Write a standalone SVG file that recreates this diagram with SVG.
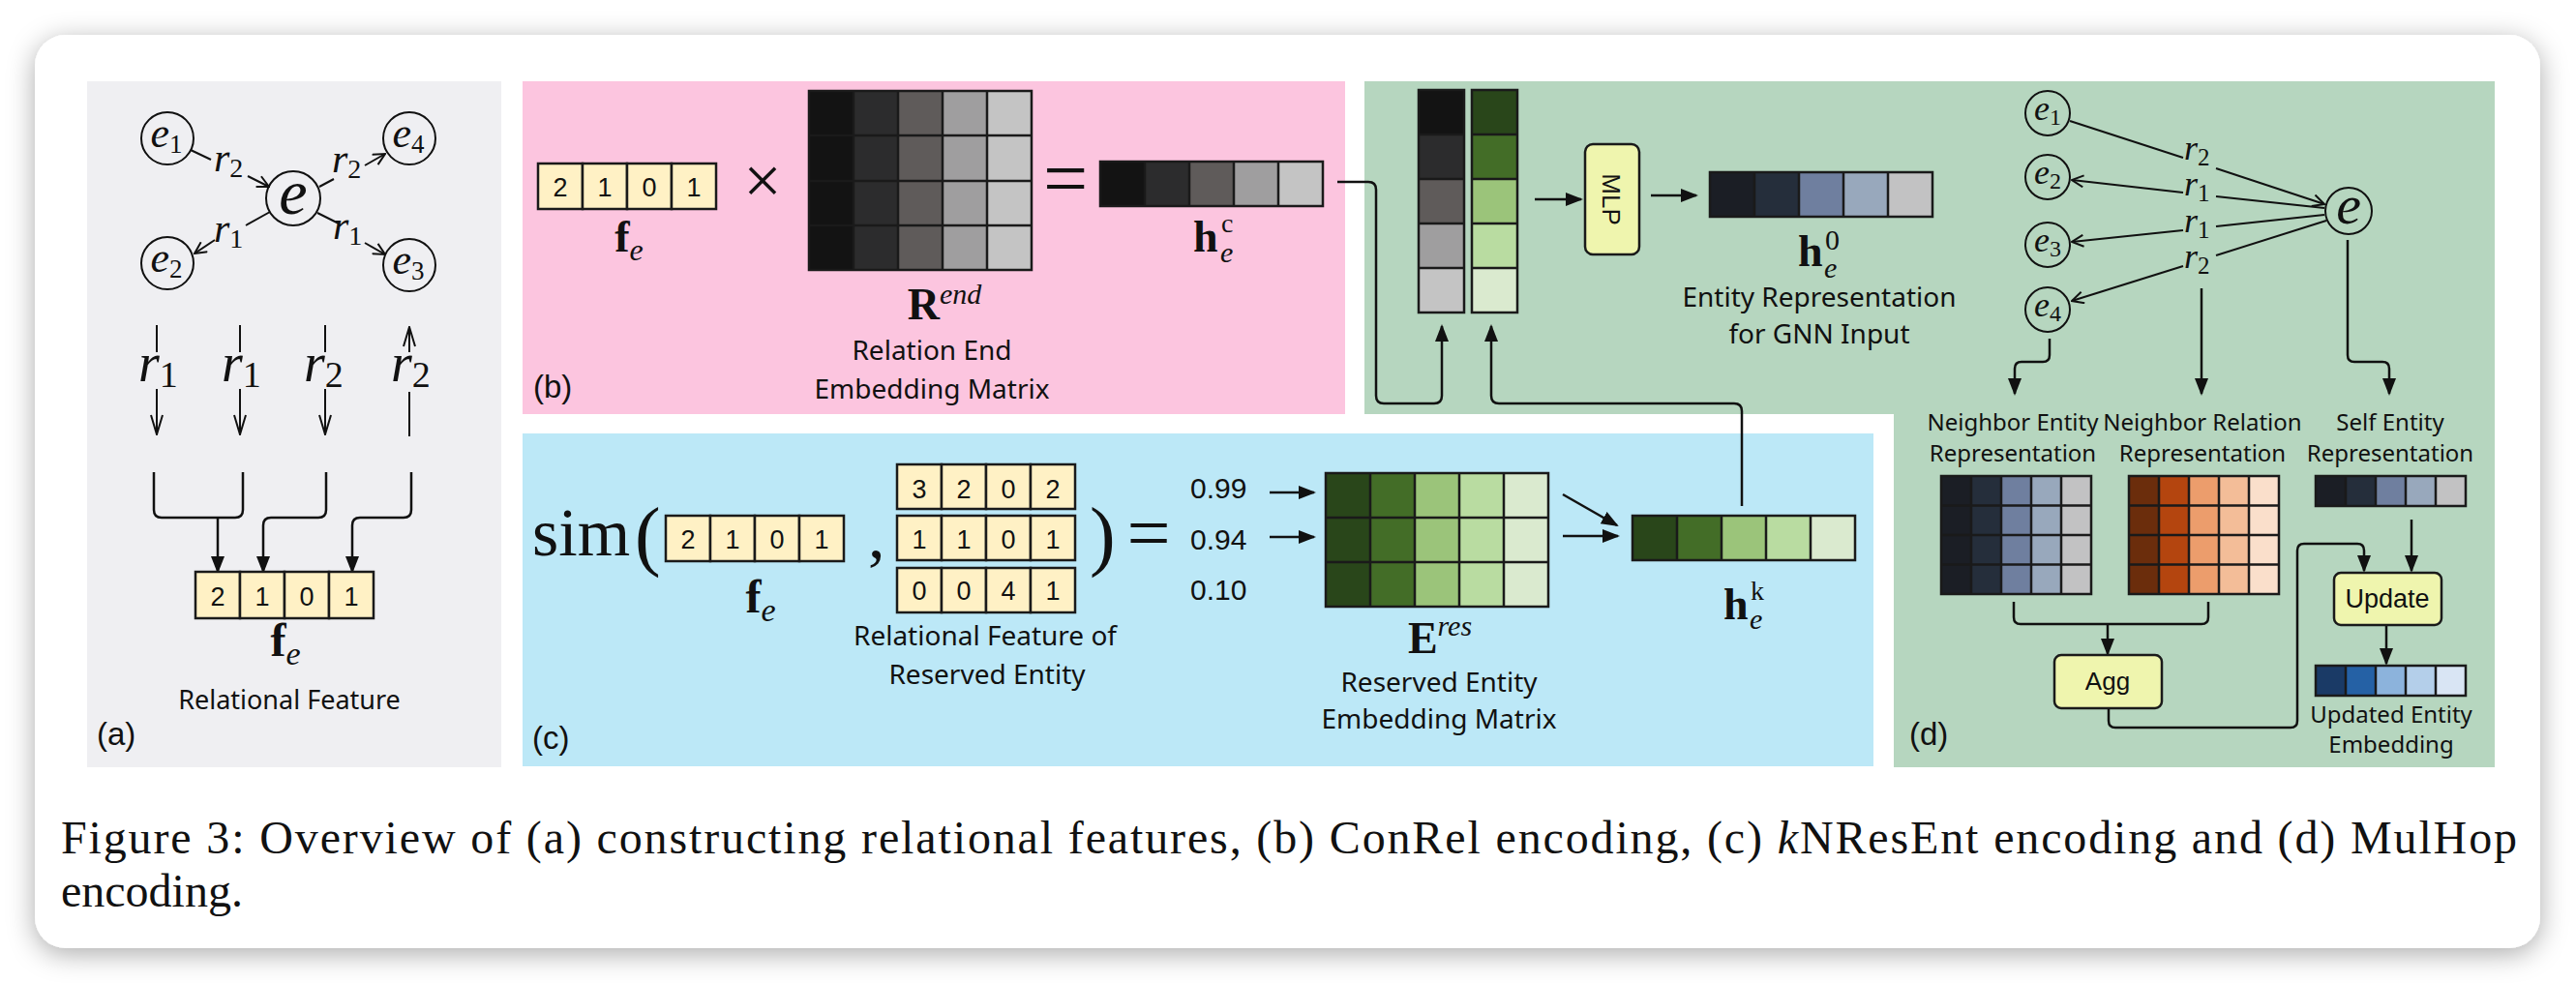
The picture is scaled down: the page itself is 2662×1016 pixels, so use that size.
<svg xmlns="http://www.w3.org/2000/svg" width="2662" height="1016" viewBox="0 0 2662 1016">
<defs>
<filter id="sh" x="-5%" y="-10%" width="110%" height="125%"><feDropShadow dx="0" dy="6" stdDeviation="14" flood-color="#000" flood-opacity="0.33"/></filter>
<marker id="af" viewBox="0 0 18 14" refX="16" refY="7" markerWidth="18" markerHeight="14" markerUnits="userSpaceOnUse" orient="auto"><path d="M0,0 L18,7 L0,14 z" fill="#111"/></marker>
<marker id="ao" viewBox="0 0 14 14" refX="13" refY="7" markerWidth="14" markerHeight="14" markerUnits="userSpaceOnUse" orient="auto"><path d="M1,1 L13,7 L1,13" fill="none" stroke="#111" stroke-width="2"/></marker>
<marker id="aol" viewBox="0 0 22 14" refX="21" refY="7" markerWidth="22" markerHeight="14" markerUnits="userSpaceOnUse" orient="auto"><path d="M1,1 L21,7 L1,13" fill="none" stroke="#111" stroke-width="2"/></marker>
</defs>
<style>
.sans{font-family:"Liberation Sans",Arial,sans-serif;fill:#111}
.hand{font-family:"Noto Sans",sans-serif;fill:#111;text-anchor:middle}
.m{font-family:"Liberation Serif","DejaVu Serif",serif;fill:#111}
.grid{fill:none;stroke:#1a1a1a;stroke-width:2.5}
.ybox{fill:#fff1c5;stroke:#1a1a1a;stroke-width:2.5}
.conn{fill:none;stroke:#111;stroke-width:2.5}
.edge{fill:none;stroke:#111;stroke-width:2}
.node{fill:none;stroke:#111;stroke-width:2}
.op{fill:#eff5ae;stroke:#1a1a1a;stroke-width:2.5}
.dig{font-family:"Liberation Sans",Arial,sans-serif;font-size:27px;text-anchor:middle;fill:#111}
.g1{fill:#131313}.g2{fill:#2c2c2d}.g3{fill:#5f5b5a}.g4{fill:#9f9e9f}.g5{fill:#c4c4c4}
.n1{fill:#29461a}.n2{fill:#436d27}.n3{fill:#9bc47a}.n4{fill:#b9dca1}.n5{fill:#daeacf}
.s1{fill:#1b1e25}.s2{fill:#252e3b}.s3{fill:#6f7f9f}.s4{fill:#98a8bc}.s5{fill:#c2c2c3}
.o1{fill:#6b2d0c}.o2{fill:#b4450f}.o3{fill:#ec9d6c}.o4{fill:#f3bd98}.o5{fill:#fadfcb}
.b1{fill:#1a3a66}.b2{fill:#2561a5}.b3{fill:#8cb3dc}.b4{fill:#b4cfea}.b5{fill:#d9e5f4}
</style>
<rect width="2662" height="1016" fill="#ffffff"/>
<rect x="36" y="36" width="2589" height="944" rx="32" fill="#ffffff" filter="url(#sh)"/>

<g id="panels">
<rect x="90" y="84" width="428" height="709" fill="#efeff2"/>
<rect x="540" y="84" width="850" height="344" fill="#fcc5df"/>
<rect x="540" y="448" width="1396" height="344" fill="#bce8f7"/>
<path d="M1410,84 H2578 V793 H1957 V428 H1410 Z" fill="#b6d6bf"/>
</g>

<g id="connectors">
<path class="edge" d="M197,155 L218,165"/>
<path class="edge" d="M256,182 L278,193" marker-end="url(#ao)"/>
<path class="edge" d="M330,193 L345,185"/>
<path class="edge" d="M377,171 L398,159" marker-end="url(#ao)"/>
<path class="edge" d="M279,219 L254,233"/>
<path class="edge" d="M222,248 L201,262" marker-end="url(#ao)"/>
<path class="edge" d="M328,220 L350,231"/>
<path class="edge" d="M377,251 L398,263" marker-end="url(#ao)"/>
<path class="edge" d="M162,336 V364"/><path class="edge" d="M162,402 V449" marker-end="url(#aol)"/>
<path class="edge" d="M248,336 V364"/><path class="edge" d="M248,402 V449" marker-end="url(#aol)"/>
<path class="edge" d="M336,336 V364"/><path class="edge" d="M336,402 V449" marker-end="url(#aol)"/>
<path class="edge" d="M423,364 V338" marker-end="url(#aol)"/><path class="edge" d="M423,405 V451"/>
<path class="conn" d="M159,488 V527 Q159,535 167,535 H243 Q251,535 251,527 V488"/>
<path class="conn" d="M225,535 V591" marker-end="url(#af)"/>
<path class="conn" d="M337,488 V527 Q337,535 329,535 H280 Q272,535 272,543 V591" marker-end="url(#af)"/>
<path class="conn" d="M425,488 V527 Q425,535 417,535 H372 Q364,535 364,543 V591" marker-end="url(#af)"/>
<path class="conn" d="M1382,188 H1414 Q1422,188 1422,196 V409 Q1422,417 1430,417 H1482 Q1490,417 1490,409 V337" marker-end="url(#af)"/>
<path class="conn" d="M1800,523 V425 Q1800,417 1792,417 H1549 Q1541,417 1541,409 V337" marker-end="url(#af)"/>
<path class="conn" d="M1586,206 H1634" marker-end="url(#af)"/>
<path class="conn" d="M1706,202 H1753" marker-end="url(#af)"/>
<path class="conn" d="M1312,509 H1358" marker-end="url(#af)"/>
<path class="conn" d="M1312,555 H1358" marker-end="url(#af)"/>
<path class="conn" d="M1615,511 L1671,543" marker-end="url(#af)"/>
<path class="conn" d="M1615,554 H1672" marker-end="url(#af)"/>
<path class="edge" d="M2139,125 L2256,163"/><path class="edge" d="M2290,174 L2402,211" marker-end="url(#ao)"/>
<path class="edge" d="M2402,215 L2290,203"/><path class="edge" d="M2256,199 L2141,186" marker-end="url(#ao)"/>
<path class="edge" d="M2402,222 L2290,234"/><path class="edge" d="M2256,238 L2141,250" marker-end="url(#ao)"/>
<path class="edge" d="M2404,228 L2290,264"/><path class="edge" d="M2256,275 L2141,311" marker-end="url(#ao)"/>
<path class="conn" d="M2118,350 V367 Q2118,374 2111,374 H2089 Q2082,374 2082,381 V407" marker-end="url(#af)"/>
<path class="conn" d="M2275,298 V407" marker-end="url(#af)"/>
<path class="conn" d="M2426,248 V367 Q2426,374 2433,374 H2462 Q2469,374 2469,381 V407" marker-end="url(#af)"/>
<path class="conn" d="M2081,622 V638 Q2081,645 2088,645 H2275 Q2282,645 2282,638 V622"/>
<path class="conn" d="M2178,645 V676" marker-end="url(#af)"/>
<path class="conn" d="M2492,537 V590" marker-end="url(#af)"/>
<path class="conn" d="M2466,646 V686" marker-end="url(#af)"/>
<path class="conn" d="M2179,732 V745 Q2179,752 2186,752 H2367 Q2374,752 2374,745 V569 Q2374,562 2381,562 H2436 Q2443,562 2443,569 V590" marker-end="url(#af)"/>
</g>

<g id="a-e1"><circle class="node" cx="173" cy="143" r="27"/><text class="m" x="172" y="152" text-anchor="middle"><tspan font-style="italic" font-size="44">e</tspan><tspan font-size="27" dy="6">1</tspan></text></g>
<g id="a-e4"><circle class="node" cx="423" cy="143" r="27"/><text class="m" x="422" y="152" text-anchor="middle"><tspan font-style="italic" font-size="44">e</tspan><tspan font-size="27" dy="6">4</tspan></text></g>
<g id="a-e"><circle class="node" cx="303" cy="205" r="28"/><text class="m" x="303" y="221" text-anchor="middle" font-style="italic" font-size="66">e</text></g>
<g id="a-e2"><circle class="node" cx="173" cy="272" r="27"/><text class="m" x="172" y="281" text-anchor="middle"><tspan font-style="italic" font-size="44">e</tspan><tspan font-size="27" dy="6">2</tspan></text></g>
<g id="a-e3"><circle class="node" cx="423" cy="274" r="27"/><text class="m" x="422" y="283" text-anchor="middle"><tspan font-style="italic" font-size="44">e</tspan><tspan font-size="27" dy="6">3</tspan></text></g>
<g id="a-labels" class="m">
<text x="221" y="177"><tspan font-style="italic" font-size="42">r</tspan><tspan font-size="28" dy="6">2</tspan></text>
<text x="343" y="178"><tspan font-style="italic" font-size="42">r</tspan><tspan font-size="28" dy="6">2</tspan></text>
<text x="221" y="250"><tspan font-style="italic" font-size="42">r</tspan><tspan font-size="28" dy="6">1</tspan></text>
<text x="344" y="247"><tspan font-style="italic" font-size="42">r</tspan><tspan font-size="28" dy="6">1</tspan></text>
<text x="143" y="394"><tspan font-style="italic" font-size="56">r</tspan><tspan font-size="38" dy="6">1</tspan></text>
<text x="229" y="394"><tspan font-style="italic" font-size="56">r</tspan><tspan font-size="38" dy="6">1</tspan></text>
<text x="314" y="394"><tspan font-style="italic" font-size="56">r</tspan><tspan font-size="38" dy="6">2</tspan></text>
<text x="404" y="394"><tspan font-style="italic" font-size="56">r</tspan><tspan font-size="38" dy="6">2</tspan></text>
</g>
<g id="a-fe">
<rect class="ybox" x="202" y="591" width="46" height="48"/><rect class="ybox" x="248" y="591" width="46" height="48"/><rect class="ybox" x="294" y="591" width="46" height="48"/><rect class="ybox" x="340" y="591" width="46" height="48"/>
<text class="dig" x="225" y="626">2</text><text class="dig" x="271" y="626">1</text><text class="dig" x="317" y="626">0</text><text class="dig" x="363" y="626">1</text>
<text class="m" x="295" y="678" text-anchor="middle"><tspan font-weight="bold" font-size="48">f</tspan><tspan font-style="italic" font-size="34" dy="9">e</tspan></text>
<text class="hand" x="299" y="733" font-size="27">Relational Feature</text>
<text class="sans" x="100" y="770" font-size="33">(a)</text>
</g>

<g id="b-fe">
<rect class="ybox" x="556" y="169" width="46" height="47"/><rect class="ybox" x="602" y="169" width="46" height="47"/><rect class="ybox" x="648" y="169" width="46" height="47"/><rect class="ybox" x="694" y="169" width="46" height="47"/>
<text class="dig" x="579" y="203">2</text><text class="dig" x="625" y="203">1</text><text class="dig" x="671" y="203">0</text><text class="dig" x="717" y="203">1</text>
<text class="m" x="650" y="260" text-anchor="middle"><tspan font-weight="bold" font-size="46">f</tspan><tspan font-style="italic" font-size="32" dy="9">e</tspan></text>
</g>
<text class="m" x="788" y="210" text-anchor="middle" font-size="70">×</text>
<g id="b-Rend">
<rect class="g1" x="836" y="94" width="46" height="185"/><rect class="g2" x="882" y="94" width="46" height="185"/><rect class="g3" x="928" y="94" width="46" height="185"/><rect class="g4" x="974" y="94" width="46" height="185"/><rect class="g5" x="1020" y="94" width="46" height="185"/>
<path class="grid" d="M836,94 H1066 V279 H836 Z M882,94 V279 M928,94 V279 M974,94 V279 M1020,94 V279 M836,140 H1066 M836,187 H1066 M836,233 H1066"/>
<text class="m" x="976" y="330" text-anchor="middle"><tspan font-weight="bold" font-size="46">R</tspan><tspan font-style="italic" font-size="30" dy="-16">end</tspan></text>
<text class="hand" x="963" y="372" font-size="28">Relation End</text>
<text class="hand" x="963" y="412" font-size="28">Embedding Matrix</text>
</g>
<text class="m" x="1101" y="212" text-anchor="middle" font-size="82">=</text>
<g id="b-hc">
<rect class="g1" x="1137" y="167" width="46" height="46"/><rect class="g2" x="1183" y="167" width="46" height="46"/><rect class="g3" x="1229" y="167" width="46" height="46"/><rect class="g4" x="1275" y="167" width="46" height="46"/><rect class="g5" x="1321" y="167" width="46" height="46"/>
<path class="grid" d="M1137,167 H1367 V213 H1137 Z M1183,167 V213 M1229,167 V213 M1275,167 V213 M1321,167 V213"/>
<text class="m" x="1233" y="260" font-weight="bold" font-size="46">h</text>
<text class="m" x="1262" y="240" font-size="28">c</text>
<text class="m" x="1261" y="271" font-style="italic" font-size="30">e</text>
</g>
<text class="sans" x="551" y="411" font-size="33">(b)</text>

<g id="c-sim">
<text class="m" x="550" y="574" font-size="70">sim</text>
<text class="m" x="656" y="580" font-size="80">(</text>
<rect class="ybox" x="688" y="533" width="46" height="47"/><rect class="ybox" x="734" y="533" width="46" height="47"/><rect class="ybox" x="780" y="533" width="46" height="47"/><rect class="ybox" x="826" y="533" width="46" height="47"/>
<text class="dig" x="711" y="567">2</text><text class="dig" x="757" y="567">1</text><text class="dig" x="803" y="567">0</text><text class="dig" x="849" y="567">1</text>
<text class="m" x="786" y="633" text-anchor="middle"><tspan font-weight="bold" font-size="48">f</tspan><tspan font-style="italic" font-size="34" dy="9">e</tspan></text>
<text class="m" x="897" y="576" font-size="70">,</text>
</g>
<g id="c-rel">
<rect class="ybox" x="927" y="480" width="46" height="46"/><rect class="ybox" x="973" y="480" width="46" height="46"/><rect class="ybox" x="1019" y="480" width="46" height="46"/><rect class="ybox" x="1065" y="480" width="46" height="46"/>
<text class="dig" x="950" y="515">3</text><text class="dig" x="996" y="515">2</text><text class="dig" x="1042" y="515">0</text><text class="dig" x="1088" y="515">2</text>
<rect class="ybox" x="927" y="533" width="46" height="46"/><rect class="ybox" x="973" y="533" width="46" height="46"/><rect class="ybox" x="1019" y="533" width="46" height="46"/><rect class="ybox" x="1065" y="533" width="46" height="46"/>
<text class="dig" x="950" y="567">1</text><text class="dig" x="996" y="567">1</text><text class="dig" x="1042" y="567">0</text><text class="dig" x="1088" y="567">1</text>
<rect class="ybox" x="927" y="587" width="46" height="46"/><rect class="ybox" x="973" y="587" width="46" height="46"/><rect class="ybox" x="1019" y="587" width="46" height="46"/><rect class="ybox" x="1065" y="587" width="46" height="46"/>
<text class="dig" x="950" y="620">0</text><text class="dig" x="996" y="620">0</text><text class="dig" x="1042" y="620">4</text><text class="dig" x="1088" y="620">1</text>
<text class="hand" x="1018" y="667" font-size="28">Relational Feature of</text>
<text class="hand" x="1020" y="707" font-size="28">Reserved Entity</text>
</g>
<text class="m" x="1126" y="580" font-size="80">)</text>
<text class="m" x="1187" y="578" text-anchor="middle" font-size="80">=</text>
<g id="c-scores" class="sans" font-size="30">
<text x="1230" y="515">0.99</text><text x="1230" y="568">0.94</text><text x="1230" y="620">0.10</text>
</g>
<g id="c-Eres">
<rect class="n1" x="1370" y="489" width="46" height="138"/><rect class="n2" x="1416" y="489" width="46" height="138"/><rect class="n3" x="1462" y="489" width="46" height="138"/><rect class="n4" x="1508" y="489" width="46" height="138"/><rect class="n5" x="1554" y="489" width="46" height="138"/>
<path class="grid" d="M1370,489 H1600 V627 H1370 Z M1416,489 V627 M1462,489 V627 M1508,489 V627 M1554,489 V627 M1370,535 H1600 M1370,581 H1600"/>
<text class="m" x="1488" y="675" text-anchor="middle"><tspan font-weight="bold" font-size="46">E</tspan><tspan font-style="italic" font-size="30" dy="-18">res</tspan></text>
<text class="hand" x="1487" y="715" font-size="28">Reserved Entity</text>
<text class="hand" x="1487" y="753" font-size="28">Embedding Matrix</text>
</g>
<g id="c-hk">
<rect class="n1" x="1687" y="533" width="46" height="46"/><rect class="n2" x="1733" y="533" width="46" height="46"/><rect class="n3" x="1779" y="533" width="46" height="46"/><rect class="n4" x="1825" y="533" width="46" height="46"/><rect class="n5" x="1871" y="533" width="46" height="46"/>
<path class="grid" d="M1687,533 H1917 V579 H1687 Z M1733,533 V579 M1779,533 V579 M1825,533 V579 M1871,533 V579"/>
<text class="m" x="1781" y="640" font-weight="bold" font-size="46">h</text>
<text class="m" x="1809" y="620" font-size="28">k</text>
<text class="m" x="1808" y="650" font-style="italic" font-size="30">e</text>
</g>
<text class="sans" x="550" y="774" font-size="33">(c)</text>

<g id="d-cols">
<rect class="g1" x="1466" y="93" width="47" height="46"/><rect class="g2" x="1466" y="139" width="47" height="46"/><rect class="g3" x="1466" y="185" width="47" height="46"/><rect class="g4" x="1466" y="231" width="47" height="46"/><rect class="g5" x="1466" y="277" width="47" height="46"/>
<path class="grid" d="M1466,93 H1513 V323 H1466 Z M1466,139 H1513 M1466,185 H1513 M1466,231 H1513 M1466,277 H1513"/>
<rect class="n1" x="1521" y="93" width="47" height="46"/><rect class="n2" x="1521" y="139" width="47" height="46"/><rect class="n3" x="1521" y="185" width="47" height="46"/><rect class="n4" x="1521" y="231" width="47" height="46"/><rect class="n5" x="1521" y="277" width="47" height="46"/>
<path class="grid" d="M1521,93 H1568 V323 H1521 Z M1521,139 H1568 M1521,185 H1568 M1521,231 H1568 M1521,277 H1568"/>
</g>
<g id="d-mlp">
<rect class="op" x="1638" y="149" width="56" height="114" rx="8"/>
<text class="sans" x="0" y="0" font-size="26" text-anchor="middle" transform="translate(1656,206) rotate(90)">MLP</text>
</g>
<g id="d-h0">
<rect class="s1" x="1767" y="178" width="46" height="46"/><rect class="s2" x="1813" y="178" width="46" height="46"/><rect class="s3" x="1859" y="178" width="46" height="46"/><rect class="s4" x="1905" y="178" width="46" height="46"/><rect class="s5" x="1951" y="178" width="46" height="46"/>
<path class="grid" d="M1767,178 H1997 V224 H1767 Z M1813,178 V224 M1859,178 V224 M1905,178 V224 M1951,178 V224"/>
<text class="m" x="1858" y="275" font-weight="bold" font-size="46">h</text>
<text class="m" x="1886" y="258" font-size="30">0</text>
<text class="m" x="1885" y="287" font-style="italic" font-size="30">e</text>
<text class="hand" x="1880" y="317" font-size="28">Entity Representation</text>
<text class="hand" x="1880" y="355" font-size="28">for GNN Input</text>
</g>
<g id="d-e1"><circle class="node" cx="2116" cy="117" r="23"/><text class="m" x="2116" y="124" text-anchor="middle"><tspan font-style="italic" font-size="36">e</tspan><tspan font-size="24" dy="5">1</tspan></text></g>
<g id="d-e2"><circle class="node" cx="2116" cy="183" r="23"/><text class="m" x="2116" y="190" text-anchor="middle"><tspan font-style="italic" font-size="36">e</tspan><tspan font-size="24" dy="5">2</tspan></text></g>
<g id="d-e3"><circle class="node" cx="2116" cy="253" r="23"/><text class="m" x="2116" y="260" text-anchor="middle"><tspan font-style="italic" font-size="36">e</tspan><tspan font-size="24" dy="5">3</tspan></text></g>
<g id="d-e4"><circle class="node" cx="2116" cy="320" r="23"/><text class="m" x="2116" y="327" text-anchor="middle"><tspan font-style="italic" font-size="36">e</tspan><tspan font-size="24" dy="5">4</tspan></text></g>
<g id="d-e"><circle class="node" cx="2427" cy="218" r="24"/><text class="m" x="2427" y="231" text-anchor="middle" font-style="italic" font-size="58">e</text></g>
<g id="d-labels" class="m">
<text x="2257" y="165"><tspan font-style="italic" font-size="36">r</tspan><tspan font-size="25" dy="6">2</tspan></text>
<text x="2257" y="202"><tspan font-style="italic" font-size="36">r</tspan><tspan font-size="25" dy="6">1</tspan></text>
<text x="2257" y="240"><tspan font-style="italic" font-size="36">r</tspan><tspan font-size="25" dy="6">1</tspan></text>
<text x="2257" y="277"><tspan font-style="italic" font-size="36">r</tspan><tspan font-size="25" dy="6">2</tspan></text>
</g>

<g id="d-nent">
<text class="hand" x="2080" y="445" font-size="24">Neighbor Entity</text>
<text class="hand" x="2080" y="477" font-size="24">Representation</text>
<rect class="s1" x="2006" y="492" width="31" height="122"/><rect class="s2" x="2037" y="492" width="31" height="122"/><rect class="s3" x="2068" y="492" width="31" height="122"/><rect class="s4" x="2099" y="492" width="31" height="122"/><rect class="s5" x="2130" y="492" width="31" height="122"/>
<path class="grid" d="M2006,492 H2161 V614 H2006 Z M2037,492 V614 M2068,492 V614 M2099,492 V614 M2130,492 V614 M2006,522.5 H2161 M2006,553 H2161 M2006,583.5 H2161"/>
</g>
<g id="d-nrel">
<text class="hand" x="2276" y="445" font-size="24">Neighbor Relation</text>
<text class="hand" x="2276" y="477" font-size="24">Representation</text>
<rect class="o1" x="2200" y="492" width="31" height="122"/><rect class="o2" x="2231" y="492" width="31" height="122"/><rect class="o3" x="2262" y="492" width="31" height="122"/><rect class="o4" x="2293" y="492" width="31" height="122"/><rect class="o5" x="2324" y="492" width="31" height="122"/>
<path class="grid" d="M2200,492 H2355 V614 H2200 Z M2231,492 V614 M2262,492 V614 M2293,492 V614 M2324,492 V614 M2200,522.5 H2355 M2200,553 H2355 M2200,583.5 H2355"/>
</g>
<g id="d-self">
<text class="hand" x="2470" y="445" font-size="24">Self Entity</text>
<text class="hand" x="2470" y="477" font-size="24">Representation</text>
<rect class="s1" x="2393" y="492" width="31" height="31"/><rect class="s2" x="2424" y="492" width="31" height="31"/><rect class="s3" x="2455" y="492" width="31" height="31"/><rect class="s4" x="2486" y="492" width="31" height="31"/><rect class="s5" x="2517" y="492" width="31" height="31"/>
<path class="grid" d="M2393,492 H2548 V523 H2393 Z M2424,492 V523 M2455,492 V523 M2486,492 V523 M2517,492 V523"/>
</g>
<g id="d-agg"><rect class="op" x="2123" y="677" width="111" height="55" rx="7"/><text class="sans" x="2178" y="713" font-size="26" text-anchor="middle">Agg</text></g>
<g id="d-update"><rect class="op" x="2412" y="592" width="111" height="54" rx="7"/><text class="sans" x="2467" y="628" font-size="27" text-anchor="middle">Update</text></g>
<g id="d-updated">
<rect class="b1" x="2393" y="688" width="31" height="31"/><rect class="b2" x="2424" y="688" width="31" height="31"/><rect class="b3" x="2455" y="688" width="31" height="31"/><rect class="b4" x="2486" y="688" width="31" height="31"/><rect class="b5" x="2517" y="688" width="31" height="31"/>
<path class="grid" d="M2393,688 H2548 V719 H2393 Z M2424,688 V719 M2455,688 V719 M2486,688 V719 M2517,688 V719"/>
<text class="hand" x="2471" y="747" font-size="24">Updated Entity</text>
<text class="hand" x="2471" y="778" font-size="24">Embedding</text>
</g>
<text class="sans" x="1973" y="770" font-size="33">(d)</text>

<g id="caption" class="m" font-size="48">
<text x="63" y="882" textLength="2538" lengthAdjust="spacing">Figure 3: Overview of (a) constructing relational features, (b) ConRel encoding, (c) <tspan font-style="italic">k</tspan>NResEnt encoding and (d) MulHop</text>
<text x="63" y="937">encoding.</text>
</g>
</svg>
